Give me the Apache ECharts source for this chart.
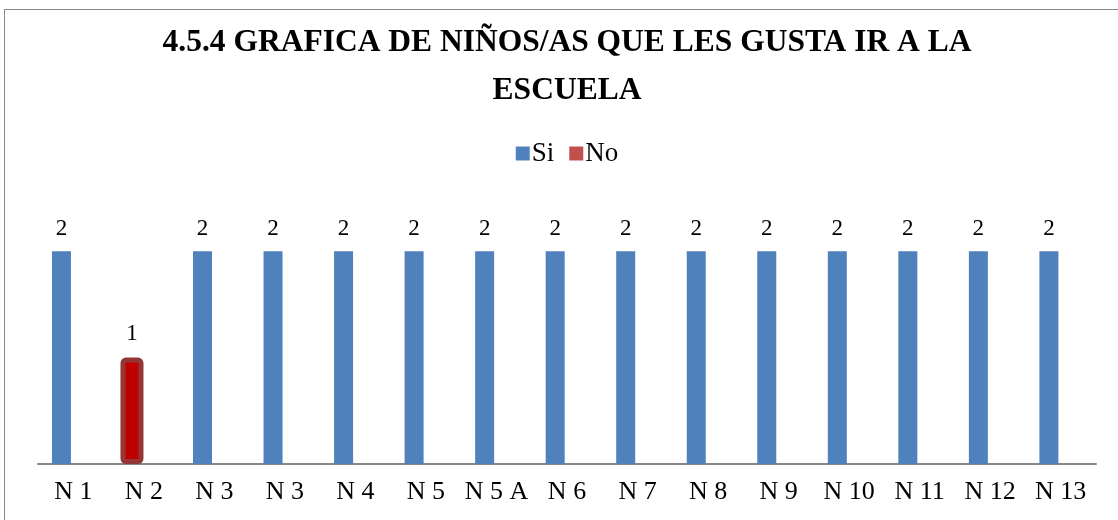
<!DOCTYPE html>
<html>
<head>
<meta charset="utf-8">
<script src="https://cdn.jsdelivr.net/npm/echarts@6/dist/echarts.min.js"></script>
<style>
html,body{margin:0;padding:0;background:#fff;overflow:hidden;width:1118px;height:520px;position:relative;}
#frame{position:absolute;left:4px;top:9px;width:1140px;height:540px;border:1.5px solid #8a8a8a;box-sizing:border-box;}
#chart{position:absolute;left:0;top:0;width:1134px;height:520px;}
</style>
</head>
<body>
<div id="frame"></div>
<div id="chart"></div>
<script>
const categories = ['N 1','N 2','N 3','N 3','N 4','N 5','N 5 A','N 6','N 7','N 8','N 9','N 10','N 11','N 12','N 13'];
const siValues = [2, null, 2, 2, 2, 2, 2, 2, 2, 2, 2, 2, 2, 2, 2];
const noValues = [null, 1, null, null, null, null, null, null, null, null, null, null, null, null, null];
const emptySlot = categories.map(() => null);
const titleText = '4.5.4 GRAFICA DE NIÑOS/AS QUE LES GUSTA IR A LA\nESCUELA';

const chart = echarts.init(document.getElementById('chart'));
const serif = 'Liberation Serif';
const lbl = {show:true, position:'top', distance:11, fontFamily:serif, fontSize:23, color:'#000'};
const gap = '-91.3%';
chart.setOption({
  animation:false,
  title:{text:titleText, left:'center', top:14,
    textStyle:{fontFamily:serif, fontWeight:'bold', fontSize:31.5, lineHeight:48, color:'#000'}},
  legend:{data:['Si', {name:'No', itemStyle:{color:'#C0504D', borderWidth:0}}],
    top:135, left:'center', itemWidth:14, itemHeight:14, itemGap:15, icon:'rect',
    textStyle:{fontFamily:serif, fontSize:27, color:'#000', padding:[0,0,0,-3]}},
  grid:{left:38, right:38, top:198, bottom:56},
  xAxis:{type:'category', data:categories, axisTick:{show:false},
    axisLine:{lineStyle:{color:'#878787', width:2}},
    axisLabel:{fontFamily:serif, fontSize:26, color:'#000', margin:15, interval:0}},
  yAxis:{type:'value', min:0, max:2.5, show:false, splitLine:{show:false}},
  series:[
    {name:'No', type:'bar', data:noValues, barWidth:23, barGap:gap,
      itemStyle:{color:'#C00000', borderColor:'#943634', borderWidth:5, borderRadius:3},
      label:Object.assign({}, lbl, {distance:12}), z:3},
    {name:'Si', type:'bar', data:siValues, barWidth:19, barGap:gap,
      itemStyle:{color:'#4F81BD'}, label:lbl, z:2},
    {name:'_', type:'bar', data:emptySlot, barWidth:43, barGap:gap, itemStyle:{color:'transparent'}}
  ]
});
</script>
</body>
</html>
